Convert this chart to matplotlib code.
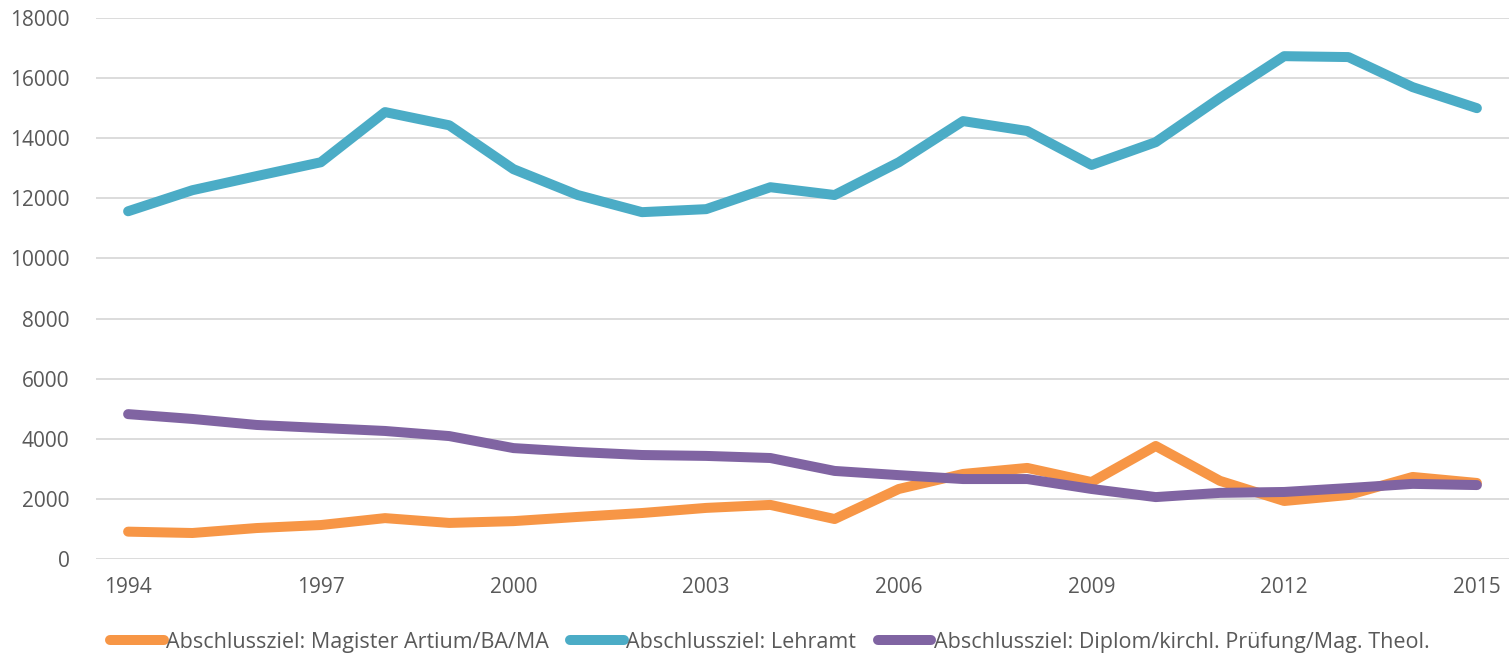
import matplotlib
matplotlib.use('Agg')
from matplotlib import pyplot as plt

years = list(range(1994, 2016))

magister = [910, 865, 1030, 1130, 1360, 1200, 1260, 1400, 1530, 1700, 1800, 1330,
            2330, 2830, 3030, 2560, 3760, 2600, 1930, 2130, 2730, 2530]
lehramt = [11570, 12270, 12740, 13200, 14870, 14430, 12970, 12110, 11540, 11640, 12370, 12110,
           13200, 14570, 14240, 13110, 13870, 15340, 16730, 16700, 15700, 15000]
diplom = [4820, 4660, 4460, 4360, 4260, 4090, 3690, 3560, 3460, 3430, 3360, 2930,
          2790, 2660, 2660, 2330, 2060, 2200, 2230, 2360, 2500, 2460]

labels = ['Abschlussziel: Magister Artium/BA/MA',
          'Abschlussziel: Lehramt',
          'Abschlussziel: Diplom/kirchl. Prüfung/Mag. Theol.']
colors = ['#F79646', '#4BACC6', '#8064A2']

plt.rcParams['font.family'] = ['Open Sans', 'DejaVu Sans']

fig = plt.figure(figsize=(15.12, 6.54), dpi=100)
ax = fig.add_axes([96 / 1512, 1 - 559 / 654, (1509 - 96) / 1512, (559 - 18) / 654])

for vals, lab, col in zip([magister, lehramt, diplom], labels, colors):
    ax.plot(years, vals, color=col, lw=7.2, label=lab, solid_capstyle='round', solid_joinstyle='round')

ax.set_xlim(1993.5, 2015.5)
ax.set_ylim(0, 18000)
ax.set_xticks(years[::3])
ax.set_yticks(range(0, 18001, 2000))
ax.grid(axis='y', color='#d9d9d9', lw=1.3)
ax.set_axisbelow(True)
for s in ax.spines.values():
    s.set_visible(False)
ax.tick_params(length=0, colors='#595959', labelsize=15)
ax.tick_params(axis='x', pad=13)
ax.tick_params(axis='y', pad=19)

leg = fig.legend(loc='center', bbox_to_anchor=(0.509, 0.018), ncol=3, frameon=False,
                 fontsize=15.5, handlelength=2.5, handletextpad=0.1, columnspacing=1.0)
for t in leg.get_texts():
    t.set_color('#595959')

fig.savefig('out.png', dpi=100)
